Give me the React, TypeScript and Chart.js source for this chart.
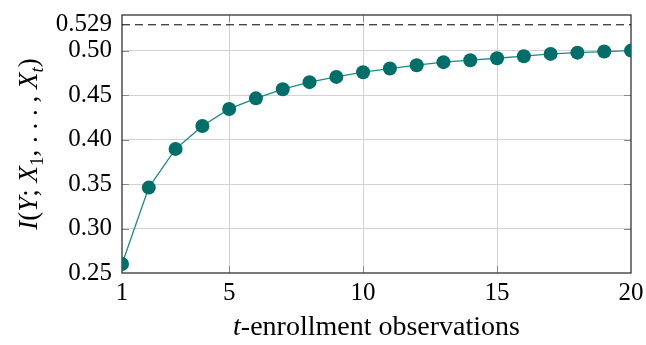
import React, { useEffect, useRef } from "react";
import { Chart, registerables } from "chart.js";

Chart.register(...registerables);

const steps = [1, 2, 3, 4, 5, 6, 7, 8, 9, 10, 11, 12, 13, 14, 15, 16, 17, 18, 19, 20];
const mutualInfo = [
  0.2601, 0.346, 0.3895, 0.4153, 0.4344, 0.4463, 0.4566, 0.4645, 0.4704, 0.4757,
  0.4798, 0.4836, 0.487, 0.4892, 0.4914, 0.4937, 0.4963, 0.4977, 0.4989, 0.5,
];
const upperBound = 0.529;
const xTicks = [1, 5, 10, 15, 20];
const yTicks = [0.25, 0.3, 0.35, 0.4, 0.45, 0.5, 0.529];
const yTickLabels = ["0.25", "0.30", "0.35", "0.40", "0.45", "0.50", "0.529"];

const FONT = "'Liberation Serif', 'DejaVu Serif', serif";

type Run = { t: string; i?: boolean; sub?: boolean };

function drawRuns(ctx: CanvasRenderingContext2D, runs: Run[], cx: number, cy: number, size: number) {
  const fontFor = (r: Run) => `${r.i ? "italic " : ""}${r.sub ? Math.round(size * 0.7) : size}px ${FONT}`;
  let total = 0;
  for (const r of runs) {
    ctx.font = fontFor(r);
    total += ctx.measureText(r.t).width;
  }
  let x = cx - total / 2;
  ctx.textBaseline = "alphabetic";
  ctx.textAlign = "left";
  ctx.fillStyle = "#000";
  for (const r of runs) {
    ctx.font = fontFor(r);
    ctx.fillText(r.t, x, cy + (r.sub ? size * 0.22 : 0));
    x += ctx.measureText(r.t).width;
  }
}

const framePlugin = {
  id: "frame",
  beforeDatasetsDraw(chart: any) {
    const { ctx, chartArea } = chart;
    const { left, right, top, bottom } = chartArea;
    ctx.save();
    ctx.strokeStyle = "#8a8a8a";
    ctx.lineWidth = 1;
    const ys = chart.scales.y;
    for (const v of yTicks) {
      if (v === upperBound || v === 0.25) continue;
      const py = Math.round(ys.getPixelForValue(v)) + 0.5;
      ctx.beginPath();
      ctx.moveTo(left, py);
      ctx.lineTo(left + 7, py);
      ctx.moveTo(right - 7, py);
      ctx.lineTo(right, py);
      ctx.stroke();
    }
    const xs = chart.scales.x;
    for (const v of xTicks) {
      if (v === 1 || v === 20) continue;
      const px = Math.round(xs.getPixelForValue(v)) + 0.5;
      ctx.beginPath();
      ctx.moveTo(px, bottom);
      ctx.lineTo(px, bottom - 7);
      ctx.moveTo(px, top);
      ctx.lineTo(px, top + 7);
      ctx.stroke();
    }
    ctx.strokeStyle = "#222";
    ctx.lineWidth = 1.2;
    ctx.strokeRect(left, top, right - left, bottom - top);
    ctx.restore();
  },
  afterDraw(chart: any) {
    const { ctx, chartArea } = chart;
    const { left, right, top, bottom } = chartArea;
    ctx.save();
    drawRuns(
      ctx,
      [{ t: "t", i: true }, { t: "-enrollment observations" }],
      (left + right) / 2,
      335,
      28
    );
    ctx.translate(37, (top + bottom) / 2);
    ctx.rotate(-Math.PI / 2);
    drawRuns(
      ctx,
      [
        { t: "I", i: true },
        { t: "(" },
        { t: "Y", i: true },
        { t: "; " },
        { t: "X", i: true },
        { t: "1", sub: true },
        { t: ", . . . , " },
        { t: "X", i: true },
        { t: "t", i: true, sub: true },
        { t: ")" },
      ],
      0,
      0,
      27
    );
    ctx.restore();
  },
};

export default function App() {
  const ref = useRef<HTMLCanvasElement | null>(null);
  useEffect(() => {
    if (!ref.current) return;
    const chart = new Chart(ref.current, {
      type: "line",
      data: {
        datasets: [
          {
            data: steps.map((s, i) => ({ x: s, y: mutualInfo[i] })),
            borderColor: "#1a8c87",
            borderWidth: 1.3,
            pointRadius: 7,
            pointBackgroundColor: "#006e69",
            pointBorderColor: "#006e69",
            pointBorderWidth: 0,
            tension: 0,
          },
          {
            data: [
              { x: steps[0], y: upperBound },
              { x: steps[steps.length - 1], y: upperBound },
            ],
            borderColor: "#000",
            borderWidth: 1,
            borderDash: [8, 5],
            pointRadius: 0,
          },
        ],
      },
      options: {
        animation: false,
        responsive: true,
        maintainAspectRatio: false,
        layout: { padding: { left: 0, right: 15, top: 15, bottom: 0 } },
        plugins: { legend: { display: false }, tooltip: { enabled: false } },
        scales: {
          x: {
            type: "linear",
            min: 1,
            max: 20,
            afterBuildTicks: (s: any) => {
              s.ticks = xTicks.map((v) => ({ value: v }));
            },
            afterFit: (s: any) => {
              s.height = 72;
              s.paddingLeft = 0;
              s.paddingRight = 0;
            },
            border: { display: false },
            grid: {
              drawTicks: false,
              color: (c: any) => (c.tick && (c.tick.value === 1 || c.tick.value === 20) ? "rgba(0,0,0,0)" : "#d2d2d2"),
              lineWidth: 1,
            },
            ticks: {
              padding: 5,
              color: "#000",
              font: { family: FONT, size: 25 },
              maxRotation: 0,
              autoSkip: false,
            },
          },
          y: {
            type: "linear",
            min: 0.25,
            max: 0.54,
            afterBuildTicks: (s: any) => {
              s.ticks = yTicks.map((v) => ({ value: v }));
            },
            afterFit: (s: any) => {
              s.width = 122;
              s.paddingTop = 0;
              s.paddingBottom = 0;
            },
            border: { display: false },
            grid: {
              drawTicks: false,
              color: (c: any) =>
                c.tick && (c.tick.value === 0.25 || c.tick.value === upperBound) ? "rgba(0,0,0,0)" : "#d2d2d2",
              lineWidth: 1,
            },
            ticks: {
              padding: 10,
              color: "#000",
              font: { family: FONT, size: 25 },
              autoSkip: false,
              callback: (_v: any, i: number) => yTickLabels[i],
            },
          },
        },
      },
      plugins: [framePlugin],
    });
    return () => chart.destroy();
  }, []);
  return (
    <div style={{ position: "absolute", left: 0, top: 0, width: 646, height: 345 }}>
      <canvas ref={ref} />
    </div>
  );
}
